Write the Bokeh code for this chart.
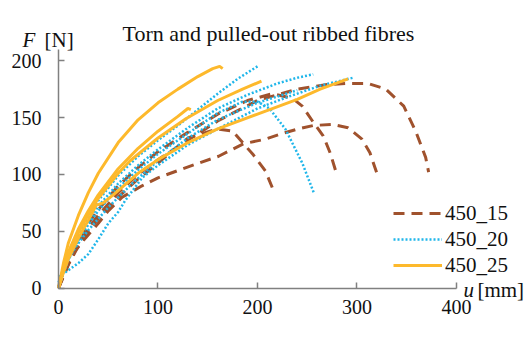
from bokeh.plotting import figure
from bokeh.models import Range1d, FixedTicker, Label, Legend, LegendItem
from bokeh.embed import file_html
from bokeh.resources import INLINE

FONT = "Liberation Serif"
AX_FONT = "'Liberation Serif', 'Times New Roman', serif"

# ---- data: u [mm], F [N] ----
# 450_15 (brown dashed)
b1_u = [0, 5, 10, 20, 30, 40, 60, 80, 100, 130, 160, 200, 240, 270, 290, 311, 329, 347, 359, 369, 372]
b1_F = [0, 12, 22, 40, 53, 64, 84, 100, 113, 130, 147, 165, 175, 179, 180, 180, 175, 160, 138, 115, 102]
b2_u = [0, 5, 10, 17, 27, 40, 50, 64, 84, 100, 125, 141, 161, 186, 208, 225, 241, 256, 275, 291, 305, 313, 320]
b2_F = [0, 10, 21, 33, 44, 57, 68, 80, 90, 97, 105, 110, 116, 127, 131, 136, 140, 143, 144, 141, 131, 119, 101]
b3_u = [0, 5, 10, 20, 30, 40, 60, 80, 100, 130, 160, 190, 215, 235, 245, 256, 266, 273, 279]
b3_F = [0, 14, 25, 43, 57, 69, 90, 106, 120, 137, 153, 165, 171, 167, 160, 146, 134, 119, 102]
b4_u = [0, 5, 10, 20, 30, 40, 60, 80, 100, 130, 160, 175, 186, 196, 208, 216]
b4_F = [0, 11, 21, 37, 50, 61, 80, 96, 110, 132, 140, 138, 127, 117, 103, 86]

# 450_20 (cyan dotted)
c1_u = [0, 5, 10, 20, 30, 40, 60, 80, 100, 120, 140, 160, 180, 200]
c1_F = [0, 15, 28, 47, 63, 77, 99, 116, 130, 143, 157, 171, 184, 195]
c2_u = [0, 5, 10, 20, 30, 40, 60, 80, 100, 130, 160, 190, 220, 240, 256]
c2_F = [0, 14, 26, 44, 59, 72, 92, 108, 122, 141, 158, 170, 180, 185, 188]
c3_u = [0, 5, 10, 20, 30, 40, 60, 80, 100, 130, 160, 185, 200, 212, 228, 245, 257]
c3_F = [0, 13, 25, 42, 56, 68, 88, 104, 118, 136, 154, 164, 164, 158, 140, 110, 83]
c4_u = [0, 7, 20, 30, 40, 50, 60, 67, 84, 100, 130, 160, 200, 230, 263, 296]
c4_F = [10, 14, 22, 30, 43, 57, 67, 77, 97, 108, 126, 140, 158, 168, 178, 185]
c5_u = [0, 7, 17, 30, 50, 74, 100, 130, 160, 200, 240]
c5_F = [5, 21, 36, 51, 71, 92, 112, 132, 148, 163, 174]

# 450_25 (orange solid)
o1_u = [0, 5, 10, 20, 30, 40, 60, 80, 100, 120, 140, 155, 162, 165]
o1_F = [0, 22, 40, 64, 84, 101, 128, 148, 163, 175, 186, 193, 195, 193]
o2_u = [0, 5, 10, 20, 30, 40, 60, 80, 100, 120, 130, 133]
o2_F = [0, 18, 32, 52, 68, 82, 105, 123, 138, 151, 158, 157]
o3_u = [0, 5, 10, 20, 30, 40, 60, 72, 100, 128, 160, 185, 204]
o3_F = [0, 16, 29, 49, 65, 79, 101, 112, 132, 149, 165, 175, 182]
o4_u = [0, 5, 10, 20, 30, 38, 45, 55, 80, 100, 128, 160, 200, 240, 263, 291]
o4_F = [0, 14, 26, 44, 60, 73, 75, 82, 101, 113, 127, 140, 153, 166, 175, 184]

x_ticks = [0, 100, 200, 300, 400]
y_ticks = [0, 50, 100, 150, 200]
series_names = ["450_15", "450_20", "450_25"]
title_text = "Torn and pulled-out ribbed fibres"

BROWN = "#A0522D"
CYAN = "#1FB6EA"
ORANGE = "#FDB92C"
TXT = "#111111"

# frame covers the whole canvas; axes are pinned at the data origin
p = figure(width=531, height=339, x_range=Range1d(-58.29, 475.38), y_range=Range1d(-45.1, 252.9),
           output_backend="svg", toolbar_location=None, min_border=0)
p.outline_line_color = None
p.grid.visible = False
p.background_fill_color = "white"
p.border_fill_color = "white"

for ax, ticks, bnds in ((p.xaxis, x_ticks, (0, 400)), (p.yaxis, y_ticks, (0, 210))):
    ax.ticker = FixedTicker(ticks=ticks)
    ax.bounds = bnds
    ax.fixed_location = 0
    ax.major_tick_in = 6
    ax.major_tick_out = 0
    ax.minor_tick_line_color = None
    ax.axis_line_color = "#808080"
    ax.axis_line_width = 1.5
    ax.major_tick_line_color = "#808080"
    ax.major_tick_line_width = 1.5
    ax.major_label_text_font = AX_FONT
    ax.major_label_text_font_size = "20px"
    ax.major_label_text_color = TXT
p.xaxis.major_label_standoff = 12
p.yaxis.major_label_standoff = 17

brown_r = []
for u, F in ((b1_u, b1_F), (b2_u, b2_F), (b3_u, b3_F), (b4_u, b4_F)):
    brown_r.append(p.line(u, F, line_color=BROWN, line_width=3, line_dash="11 7"))
cyan_r = []
for u, F in ((c1_u, c1_F), (c2_u, c2_F), (c3_u, c3_F), (c4_u, c4_F), (c5_u, c5_F)):
    cyan_r.append(p.line(u, F, line_color=CYAN, line_width=2.5, line_dash="2 2"))
orange_r = []
for u, F in ((o1_u, o1_F), (o2_u, o2_F), (o3_u, o3_F), (o4_u, o4_F)):
    orange_r.append(p.line(u, F, line_color=ORANGE, line_width=3))

legend = Legend(items=[LegendItem(label=series_names[0], renderers=[brown_r[0]]),
                       LegendItem(label=series_names[1], renderers=[cyan_r[0]]),
                       LegendItem(label=series_names[2], renderers=[orange_r[0]])],
                location=(393, 61), glyph_width=49, glyph_height=26, label_height=26,
                label_standoff=3, spacing=0, padding=0, margin=0,
                label_text_font=AX_FONT, label_text_font_size="21px", label_text_color=TXT,
                border_line_color=None, background_fill_alpha=0)
p.add_layout(legend, "center")

p.add_layout(Label(x=211, y=224.0, text=title_text, text_align="center", text_baseline="alphabetic",
                   text_font=FONT, text_font_size="22px", text_color=TXT))
p.add_layout(Label(x=-36.2, y=217.8, text="F", text_align="left", text_baseline="alphabetic",
                   text_font=FONT, text_font_style="italic", text_font_size="21px", text_color=TXT))
p.add_layout(Label(x=-14.1, y=217.8, text="[N]", text_align="left", text_baseline="alphabetic",
                   text_font=FONT, text_font_size="21px", text_color=TXT))
p.add_layout(Label(x=407, y=-2.0, text="u", text_align="left", text_baseline="alphabetic",
                   text_font=FONT, text_font_style="italic", text_font_size="21px", text_color=TXT))
p.add_layout(Label(x=421, y=-2.0, text="[mm]", text_align="left", text_baseline="alphabetic",
                   text_font=FONT, text_font_size="21px", text_color=TXT))

open("out.html", "w").write(file_html(p, INLINE))
